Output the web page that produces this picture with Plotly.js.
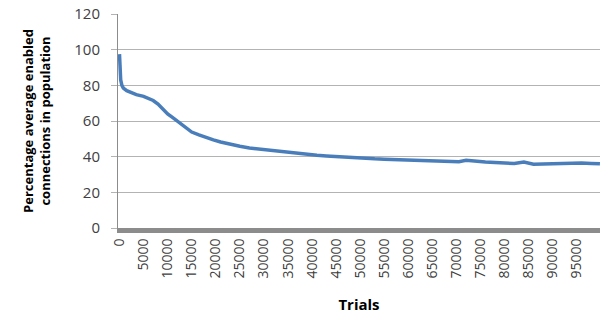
<!DOCTYPE html>
<html>
<head>
<meta charset="utf-8">
<script src="https://cdn.plot.ly/plotly-3.0.1.min.js"></script>
<style>
html,body{margin:0;padding:0;background:#fff;}
#chart{width:605px;height:314px;}
</style>
</head>
<body>
<div id="chart"></div>
<script>
const trials = [0, 100, 250, 500, 800, 1500, 2500, 3500, 5000, 6000, 7000, 8000, 9000, 10000, 11000, 12000, 13000, 14000, 15000, 16500, 18000, 19500, 21000, 23000, 25000, 27000, 29000, 31000, 33000, 35000, 37000, 39000, 41000, 43000, 45000, 47000, 49000, 51000, 53000, 55000, 57000, 59000, 61000, 63000, 65000, 67000, 69000, 70500, 72000, 74000, 76000, 78000, 80000, 82000, 84000, 86000, 88000, 90000, 92000, 94000, 96000, 98000, 99800];
const enabledPct = [97.5, 90, 83, 80, 78.5, 77, 75.8, 74.8, 73.8, 72.8, 71.5, 69.5, 66.5, 64, 62, 60, 57.8, 55.8, 53.8, 52.2, 50.6, 49.4, 48.2, 46.8, 45.8, 44.9, 44.3, 43.6, 42.9, 42.3, 41.8, 41.3, 40.8, 40.4, 40.0, 39.7, 39.3, 39.0, 38.8, 38.6, 38.4, 38.5, 38.3, 38.0, 37.9, 37.6, 37.5, 37.2, 38.0, 37.3, 37.0, 36.7, 36.3, 36.2, 37.0, 35.8, 35.9, 36.1, 36.3, 36.6, 36.5, 36.2, 36.0];
const xTickVals = [0, 5000, 10000, 15000, 20000, 25000, 30000, 35000, 40000, 45000, 50000, 55000, 60000, 65000, 70000, 75000, 80000, 85000, 90000, 95000];
const xTickText = ["0", "5000", "10000", "15000", "20000", "25000", "30000", "35000", "40000", "45000", "50000", "55000", "60000", "65000", "70000", "75000", "80000", "85000", "90000", "95000"];
const yTickVals = [0, 20, 40, 60, 80, 100, 120];

const font = "'Open Sans', 'Noto Sans', sans-serif";

Plotly.newPlot('chart', [{
  x: trials,
  y: enabledPct,
  type: 'scatter',
  mode: 'lines',
  line: {color: '#4a7ebb', width: 3.5},
  hoverinfo: 'skip'
}], {
  width: 605,
  height: 314,
  margin: {l: 118, r: 5, t: 14, b: 86},
  paper_bgcolor: '#ffffff',
  plot_bgcolor: '#ffffff',
  showlegend: false,
  font: {family: font, color: '#404040', size: 14},
  xaxis: {
    range: [-310, 99810],
    tickmode: 'array',
    tickvals: xTickVals,
    ticktext: xTickText,
    tickangle: -90,
    ticks: '',
    showgrid: false,
    zeroline: false,
    showline: true,
    linecolor: '#8c8c8c',
    linewidth: 5,
    tickfont: {family: font, size: 14, color: '#404040'},
    title: {text: 'Trials', font: {family: font, size: 15, color: '#000000', weight: 'bold'}, standoff: 28},
    automargin: false
  },
  yaxis: {
    range: [0, 120],
    tickmode: 'array',
    tickvals: yTickVals,
    ticks: 'outside',
    ticklen: 6,
    tickcolor: '#b3b3b3',
    ticklabelstandoff: 8,
    showgrid: true,
    gridcolor: '#b3b3b3',
    gridwidth: 1,
    zeroline: false,
    showline: true,
    linecolor: '#8c8c8c',
    linewidth: 1,
    tickfont: {family: font, size: 15, color: '#404040'},
    title: {text: 'Percentage average enabled<br>connections in population', font: {family: font, size: 13, color: '#000000', weight: 'bold'}, standoff: 20},
    automargin: false
  }
}, {staticPlot: true, displayModeBar: false});
</script>
</body>
</html>
